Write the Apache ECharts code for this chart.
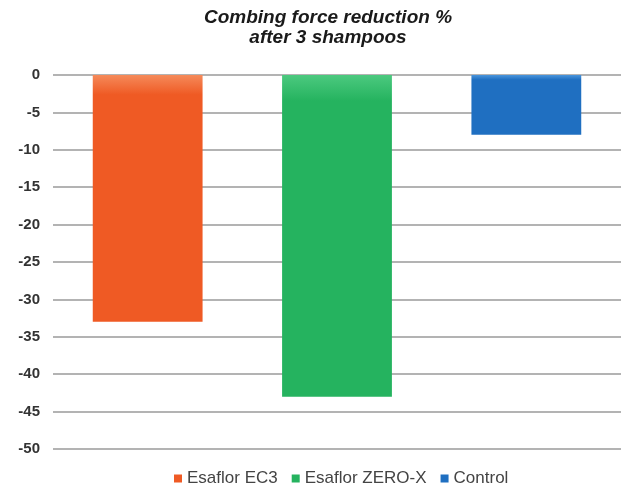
<!DOCTYPE html>
<html>
<head>
<meta charset="utf-8">
<script src="https://cdn.jsdelivr.net/npm/echarts@6/dist/echarts.min.js"></script>
<style>
  html, body { margin: 0; padding: 0; background: #fff; }
  #chart { width: 629px; height: 488px; }
</style>
</head>
<body>
<div id="chart"></div>
<script>
// 数据
const categories = ['Esaflor EC3', 'Esaflor ZERO-X', 'Control'];
const values = [-33, -43, -8];
const colors = ['#ef5a24', '#25b35f', '#1f6fc1'];
const topColors = ['#f58a5a', '#4cc97f', '#4a95dc'];

const chart = echarts.init(document.getElementById('chart'));

// 每个品类一个系列，这样图例有三项
const series = categories.map((name, i) => ({
  name: name,
  type: 'bar',
  stack: 'all',
  barWidth: '58%',
  data: categories.map((c, j) => (j === i ? values[i] : '-')),
  itemStyle: {
    color: new echarts.graphic.LinearGradient(0, 0, 0, 1, [
      { offset: 0, color: topColors[i] },
      { offset: 0.08, color: colors[i] },
      { offset: 1, color: colors[i] }
    ])
  }
}));

chart.setOption({
  animation: false,
  title: {
    text: 'Combing force reduction %\nafter 3 shampoos',
    left: 323,
    textAlign: 'center',
    top: 3,
    textStyle: {
      fontFamily: 'Liberation Sans',
      fontSize: 19,
      fontWeight: 'bold',
      fontStyle: 'italic',
      color: '#1a1a1a',
      lineHeight: 20
    }
  },
  legend: {
    top: 465,
    left: 169,
    itemWidth: 8,
    itemHeight: 8,
    itemGap: 14,
    icon: 'rect',
    textStyle: { fontFamily: 'Liberation Sans', fontSize: 17, color: '#444' },
    data: categories.map((name, i) => ({ name: name, itemStyle: { color: colors[i] } }))
  },
  grid: { left: 53, right: 8, top: 75, bottom: 39 },
  xAxis: {
    type: 'category',
    data: categories,
    axisLine: { show: false },
    axisTick: { show: false },
    axisLabel: { show: false }
  },
  yAxis: {
    type: 'value',
    min: -50,
    max: 0,
    interval: 5,
    axisLine: { show: false },
    axisTick: { show: false },
    axisLabel: {
      margin: 13,
      fontFamily: 'Liberation Sans',
      fontSize: 15,
      fontWeight: 'bold',
      color: '#333'
    },
    splitLine: { lineStyle: { color: '#b3b3b3', width: 2 } }
  },
  series: series
});
</script>
</body>
</html>
